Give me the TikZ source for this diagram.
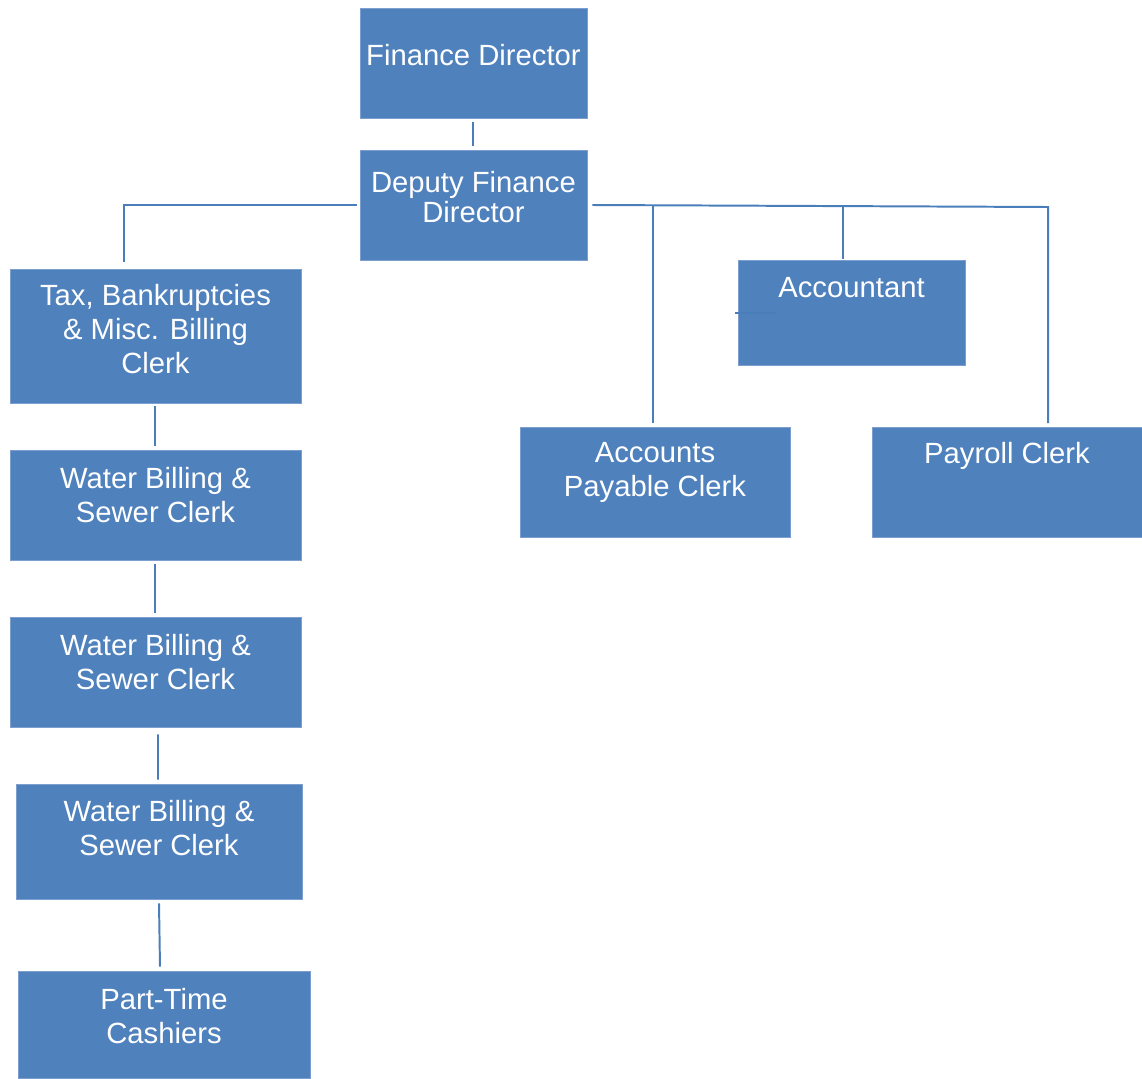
\documentclass[tikz,border=0pt]{standalone}
\usepackage{fontspec}
\setmainfont{Liberation Sans}
\usetikzlibrary{calc}
\definecolor{boxblue}{HTML}{4F81BD}
\definecolor{edgeblue}{HTML}{7C9FCF}
\definecolor{lineblue}{HTML}{4A7EBB}
\newcommand\orgbox[5]{\node[orgboxstyle, minimum width={(#4-#2)*0.025cm}, minimum height={(#5-#3)*0.025cm}] (#1) at ({(#2+#4)/2},{(#3+#5)/2}) {};}
\newcommand\orgtext[3]{\node[orgtextstyle] at (#1,#2) {\begin{tabular}[t]{@{}c@{}}#3\end{tabular}};}
\begin{document}
\begin{tikzpicture}[x=0.025cm,y=-0.025cm,
  orgboxstyle/.style={rectangle, fill=boxblue, draw=edgeblue, line width=0.4pt, inner sep=0pt},
  orgtextstyle/.style={anchor=base, inner sep=0pt, text=white, font=\fontsize{20.8pt}{24.2pt}\selectfont},
  conn/.style={draw=lineblue, line width=1.4pt}]
\useasboundingbox (0,0) rectangle (1142,1078);
% boxes
\orgbox{fd}{360}{8}{587}{118}
\orgbox{dep}{360}{150}{587}{260}
\orgbox{tax}{10}{269}{301}{403}
\orgbox{wa}{10}{450}{301}{560}
\orgbox{wb}{10}{617}{301}{727}
\orgbox{wc}{16}{784}{302}{899}
\orgbox{pt}{18}{971}{310}{1078}
\orgbox{acc}{738}{260}{965}{365}
\orgbox{ap}{520}{427}{790}{537}
\orgbox{pay}{872}{427}{1142}{537}
% texts
\orgtext{473.5}{65.5}{Finance Director}
\node[orgtextstyle, font=\fontsize{20.8pt}{22pt}\selectfont] at (473.5,192) {\begin{tabular}[t]{@{}c@{}}Deputy Finance\\Director\end{tabular}};
\orgtext{155.5}{305}{Tax, Bankruptcies\\\& Misc. Billing\\Clerk}
\orgtext{155.5}{488}{Water Billing \&\\Sewer Clerk}
\orgtext{155.5}{655}{Water Billing \&\\Sewer Clerk}
\orgtext{159}{821}{Water Billing \&\\Sewer Clerk}
\orgtext{164}{1009}{Part-Time\\Cashiers}
\orgtext{851.5}{297}{Accountant}
\orgtext{655}{462}{Accounts\\Payable Clerk}
\orgtext{1007}{463}{Payroll Clerk}
% connectors
\coordinate (taxin) at (124,262);
\coordinate (rjoin) at (1048,207);
\coordinate (apj) at (653,206);
\coordinate (accj) at (843,206.5);
\coordinate (payin) at (1048,423);
\coordinate (apin) at (653,423);
\coordinate (accin) at (843,259);
\path[conn] ($(fd.south)+(-0.5,4)$) -- ($(dep.north)+(-0.5,-4)$);
\path[conn] ($(dep.west)+(-3,0)$) -| (taxin);
\path[conn] ($(dep.east)+(5,0)$) -- (rjoin) -- (payin);
\path[conn] (apj) -- (apin);
\path[conn] (accj) -- (accin);
\draw[draw=lineblue, line width=1pt] (735,313) -- (776,313);
\path[conn] ($(tax.south)+(-0.5,3)$) -- ($(wa.north)+(-0.5,-4)$);
\path[conn] ($(wa.south)+(-0.5,4)$) -- ($(wb.north)+(-0.5,-4)$);
\path[conn] ($(wb.south)+(2.5,7)$) -- ($(wc.north)+(-1,-4)$);
\path[conn] ($(wc.south)+(0,4)$) -- ($(pt.north)+(-4,-4)$);
\end{tikzpicture}
\end{document}
